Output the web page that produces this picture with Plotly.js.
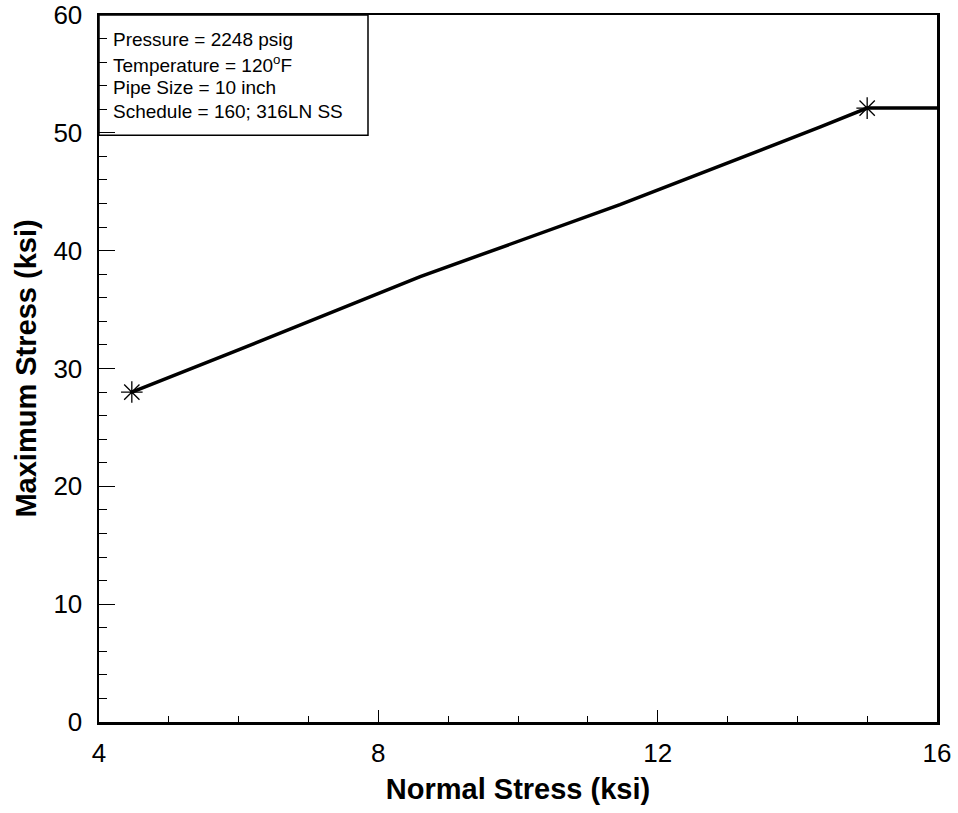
<!DOCTYPE html>
<html>
<head>
<meta charset="utf-8">
<script src="https://cdn.plot.ly/plotly-3.0.1.min.js"></script>
<style>html,body{margin:0;padding:0;background:#fff;}#chart{width:958px;height:813px;}</style>
</head>
<body>
<div id="chart"></div>
<script>
// Data
var curveX = [4.47, 5.88, 8.6, 11.46, 14.33, 15.0, 16.0];
var curveY = [28.0, 31.3, 37.8, 43.9, 50.5, 52.1, 52.1];
var markerX = [4.47, 15.0];
var markerY = [28.0, 52.1];
var xTickVals = [4, 8, 12, 16];
var yTickVals = [0, 10, 20, 30, 40, 50, 60];
var infoLines = ["Pressure = 2248 psig", "Temperature = 120<sup>o</sup>F", "Pipe Size = 10 inch", "Schedule = 160; 316LN SS"];

var FONT = "Liberation Sans, Arial, Helvetica, sans-serif";

var traces = [
  {x: curveX, y: curveY, mode: "lines", line: {color: "#000", width: 3.5}, hoverinfo: "skip"},
  {x: markerX, y: markerY, mode: "markers", marker: {symbol: "asterisk-open", size: 18, color: "#000", line: {color: "#000", width: 1.3}}, hoverinfo: "skip"}
];

var lineY = [0.965, 0.931, 0.898, 0.864];
var annotations = infoLines.map(function (t, i) {
  return {xref: "paper", yref: "paper", x: 0.0145, y: lineY[i], xanchor: "left", yanchor: "middle",
    text: t, showarrow: false, font: {family: FONT, size: 19, color: "#000"}};
});

var layout = {
  width: 958, height: 813,
  margin: {l: 99, r: 21, t: 15, b: 91},
  paper_bgcolor: "#fff", plot_bgcolor: "#fff",
  showlegend: false,
  font: {family: FONT, color: "#000"},
  xaxis: {
    range: [4, 16], tickvals: xTickVals, ticktext: xTickVals.map(String),
    ticks: "inside", ticklen: 12, tickwidth: 1, tickcolor: "#000",
    minor: {dtick: 1, tick0: 4, ticks: "inside", ticklen: 6, tickwidth: 1, tickcolor: "#000"},
    showline: true, linewidth: 2.5, linecolor: "#000", mirror: true,
    showgrid: false, zeroline: false,
    ticklabelstandoff: 6,
    tickfont: {family: FONT, size: 26, color: "#000"},
    title: {text: "<b>Normal Stress (ksi)</b>", font: {family: FONT, size: 29, color: "#000"}, standoff: 12}
  },
  yaxis: {
    range: [0, 60], tickvals: yTickVals, ticktext: yTickVals.map(String),
    ticks: "inside", ticklen: 16, tickwidth: 1, tickcolor: "#000",
    minor: {dtick: 2, tick0: 0, ticks: "inside", ticklen: 8, tickwidth: 1, tickcolor: "#000"},
    showline: true, linewidth: 2.5, linecolor: "#000", mirror: true,
    showgrid: false, zeroline: false,
    ticklabelstandoff: 9,
    tickfont: {family: FONT, size: 26, color: "#000"},
    title: {text: "<b>Maximum Stress (ksi)</b>", font: {family: FONT, size: 29, color: "#000"}, standoff: 8}
  },
  shapes: [{type: "rect", xref: "paper", yref: "paper", x0: 0, x1: 0.321, y0: 0.83, y1: 1,
    line: {color: "#000", width: 1.5}, fillcolor: "rgba(0,0,0,0)"}],
  annotations: annotations
};

Plotly.newPlot("chart", traces, layout, {displayModeBar: false, staticPlot: true});
</script>
</body>
</html>
